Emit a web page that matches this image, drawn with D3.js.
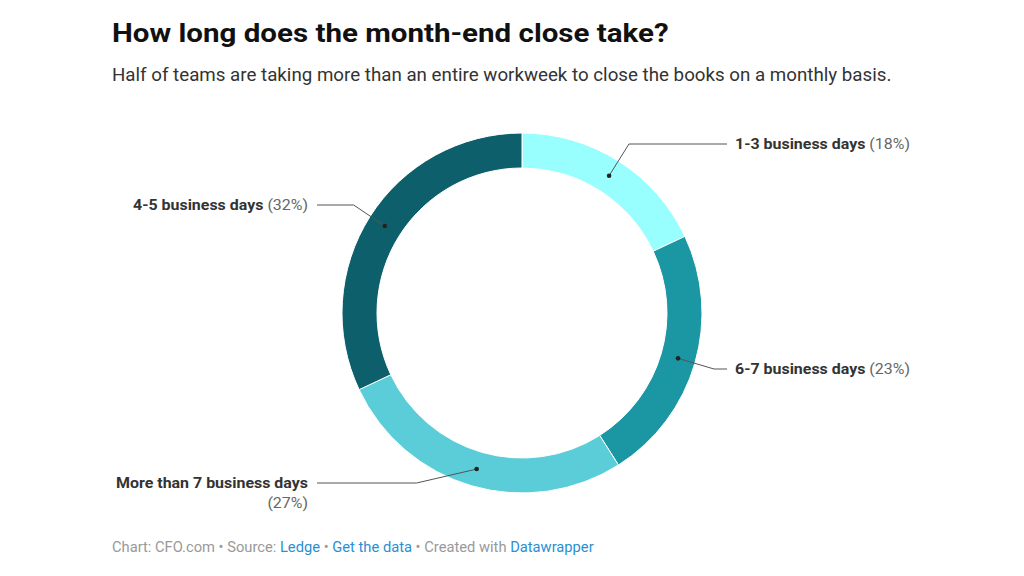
<!DOCTYPE html>
<html><head><meta charset="utf-8">
<script src="https://cdn.jsdelivr.net/npm/d3@7"></script>
<style>
body{margin:0;background:#fff;}
text{font-family:Roboto,"Noto Sans",sans-serif;}
</style></head>
<body><svg id="c" width="1024" height="576"></svg>
<script>
const categories = ["1-3 business days","6-7 business days","More than 7 business days","4-5 business days"];
const values = [18,23,27,32];
const pctLabels = ["(18%)","(23%)","(27%)","(32%)"];
const colors = ["#99fefe","#1b96a3","#5bcdd9","#0c5f6b"];
const title = "How long does the month-end close take?";
const subtitle = "Half of teams are taking more than an entire workweek to close the books on a monthly basis.";

const svg = d3.select("#c");
const cx = 522, cy = 313, rOuter = 180, rInner = 145;

function stretch(sel, k){
  const w = sel.node().getComputedTextLength();
  sel.attr("textLength", w*k).attr("lengthAdjust","spacingAndGlyphs");
}

stretch(svg.append("text").attr("x",112).attr("y",42).attr("font-size",26).attr("font-weight",700)
  .attr("fill","#111").text(title), 1.135);
stretch(svg.append("text").attr("x",112).attr("y",81).attr("font-size",18.2).attr("fill","#333").text(subtitle), 1.03);

const data = categories.map((c,i)=>({cat:c,value:values[i],pct:pctLabels[i],color:colors[i]}));
const pie = d3.pie().value(d=>d.value).sort(null);
const arcs = pie(data);
const arc = d3.arc().innerRadius(rInner).outerRadius(rOuter);
const mid = d3.arc().innerRadius((rInner+rOuter)/2).outerRadius((rInner+rOuter)/2);

const g = svg.append("g").attr("transform",`translate(${cx},${cy})`);
g.selectAll("path.slice").data(arcs).join("path").attr("class","slice")
  .attr("d",arc).attr("fill",d=>d.data.color).attr("stroke","#fff").attr("stroke-width",1);

// label layout
const labelY = [144,369,483,205];
const elbowR = 200;
const lineEndRight = 727, lineEndLeft = 317;
const labelScale = 1.1;
arcs.forEach((a,i)=>{
  const [dx,dy] = mid.centroid(a);
  const ly = labelY[i]-cy;
  const right = (a.startAngle+a.endAngle)/2 < Math.PI;
  const ex = (right?1:-1)*Math.sqrt(elbowR*elbowR-ly*ly);
  const endX = (right?lineEndRight:lineEndLeft)-cx;
  g.append("path").attr("d",`M${dx},${dy}L${ex},${ly}L${endX},${ly}`)
    .attr("fill","none").attr("stroke","#555").attr("stroke-width",1);
  g.append("circle").attr("cx",dx).attr("cy",dy).attr("r",2.3).attr("fill","#222");
  const tx = right ? endX+8 : endX-9;
  const t = g.append("text").attr("x",tx).attr("y",ly+5).attr("font-size",14.5)
    .attr("text-anchor",right?"start":"end");
  if (a.data.cat.length > 20) {
    t.append("tspan").attr("font-weight",700).attr("fill","#333").text(a.data.cat);
    const t2 = g.append("text").attr("x",tx).attr("y",ly+25).attr("font-size",14.5).attr("text-anchor","end")
      .attr("fill","#666").text(a.data.pct);
    stretch(t2, labelScale);
  } else {
    t.append("tspan").attr("font-weight",700).attr("fill","#333").text(a.data.cat+" ");
    t.append("tspan").attr("fill","#666").text(a.data.pct);
  }
  stretch(t, labelScale);
});

const foot = svg.append("text").attr("x",112).attr("y",552).attr("font-size",14).attr("fill","#999");
const parts = [["Chart: CFO.com • Source: ","#999"],["Ledge","#2a8fd1"],[" • ","#999"],["Get the data","#2a8fd1"],[" • Created with ","#999"],["Datawrapper","#2a8fd1"]];
parts.forEach(p=>foot.append("tspan").attr("fill",p[1]).text(p[0]));
stretch(foot, 1.05);
</script></body></html>
